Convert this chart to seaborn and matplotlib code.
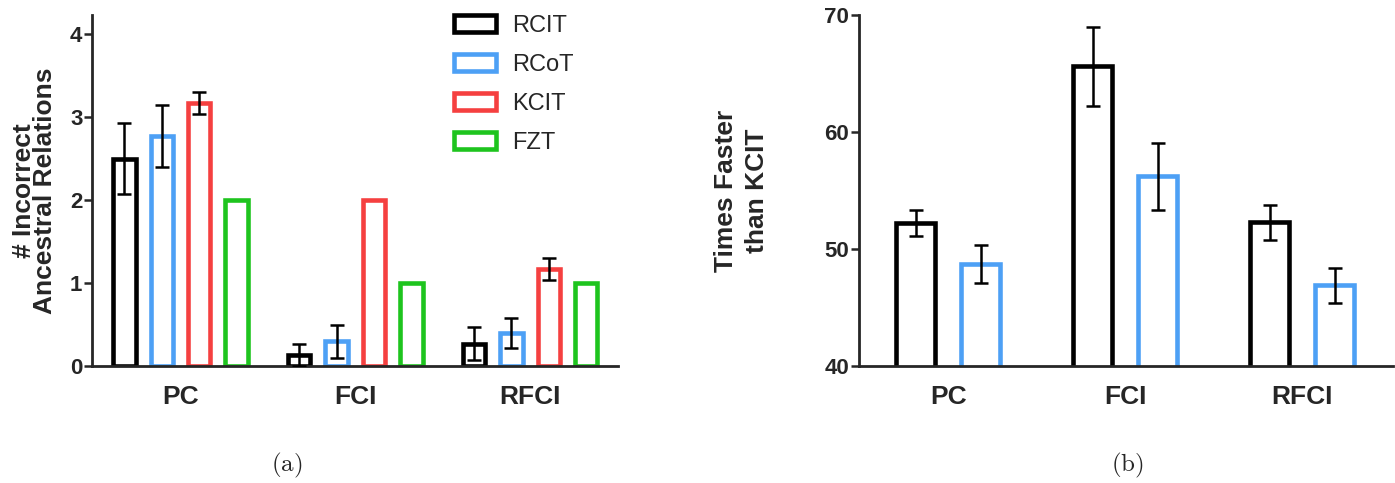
import pandas as pd
import seaborn as sns
import matplotlib.pyplot as plt
import numpy as np

# data
algorithms = ["PC", "FCI", "RFCI"]
tests_a = ["RCIT", "RCoT", "KCIT", "FZT"]
tests_b = ["RCIT", "RCoT"]

# (a) number of incorrect ancestral relations
rcit_errors = [2.50, 0.13, 0.27]
rcit_errors_sd = [0.43, 0.13, 0.20]
rcot_errors = [2.77, 0.30, 0.40]
rcot_errors_sd = [0.37, 0.20, 0.18]
kcit_errors = [3.17, 2.00, 1.17]
kcit_errors_sd = [0.13, 0.0, 0.13]
fzt_errors = [2.00, 1.00, 1.00]
fzt_errors_sd = [0.0, 0.0, 0.0]

# (b) times faster than KCIT
rcit_speedup = [52.2, 65.6, 52.3]
rcit_speedup_sd = [1.1, 3.4, 1.5]
rcot_speedup = [48.7, 56.2, 46.9]
rcot_speedup_sd = [1.6, 2.9, 1.5]

colors = {"RCIT": "#000000", "RCoT": "#4DA0F5", "KCIT": "#F54040", "FZT": "#1EC41E"}


def make_frame(tests, values, sds):
    rows = []
    for t, vals, errs in zip(tests, values, sds):
        for alg, v, e in zip(algorithms, vals, errs):
            rows.append({"algorithm": alg, "test": t, "value": v, "sd": e})
    return pd.DataFrame(rows)


df_a = make_frame(tests_a,
                  [rcit_errors, rcot_errors, kcit_errors, fzt_errors],
                  [rcit_errors_sd, rcot_errors_sd, kcit_errors_sd, fzt_errors_sd])
df_b = make_frame(tests_b,
                  [rcit_speedup, rcot_speedup],
                  [rcit_speedup_sd, rcot_speedup_sd])

sns.set_style("ticks")
plt.rcParams['font.family'] = ['Liberation Sans', 'DejaVu Sans']
plt.rcParams['mathtext.fontset'] = 'cm'

fig = plt.figure(figsize=(13.95, 4.83), dpi=100)
ax_a = fig.add_axes([0.066, 1 - 366 / 483, 0.377, 351 / 483])
ax_b = fig.add_axes([0.6158, 1 - 366 / 483, 0.383, 351 / 483])


def draw(ax, df, tests, width, gap):
    sns.barplot(data=df, x="algorithm", y="value", hue="test", hue_order=tests,
                order=algorithms, palette=colors, fill=False, errorbar=None,
                width=width, gap=gap, linewidth=3.3, legend=False, ax=ax)
    bars = list(ax.containers)
    # error bars at the bar centres given by seaborn
    for cont, t in zip(bars, tests):
        sub = df[df.test == t].set_index("algorithm").loc[algorithms]
        xs = [p.get_x() + p.get_width() / 2 for p in cont.patches]
        sd = sub["sd"].to_numpy().astype(float)
        sd[sd == 0] = np.nan
        ax.errorbar(xs, sub["value"], yerr=sd, fmt="none", ecolor="black",
                    elinewidth=1.8, capsize=5, capthick=1.8, zorder=4)
    sns.despine(ax=ax)
    ax.spines["left"].set_linewidth(2.0)
    ax.spines["bottom"].set_linewidth(2.0)
    ax.tick_params(axis="y", length=6, width=1.8, pad=1, labelsize=16)
    ax.tick_params(axis="x", length=0, pad=14, labelsize=19)
    for lbl in ax.get_xticklabels() + ax.get_yticklabels():
        lbl.set_fontweight("bold")
    ax.set_xlabel("")
    return bars


bars_a = draw(ax_a, df_a, tests_a, 0.857, 0.4)
ax_a.set_xlim(-0.506, 2.503)
ax_a.set_ylim(0, 4.23)
ax_a.set_yticks([0, 1, 2, 3, 4])
ax_a.set_ylabel("# Incorrect\nAncestral Relations", fontsize=19,
                fontweight="bold", labelpad=9, linespacing=0.85)
ax_a.legend([c.patches[0] for c in bars_a], tests_a, loc="upper left",
            bbox_to_anchor=(0.665, 1.035), frameon=False, fontsize=17,
            handlelength=1.78, handleheight=0.76, labelspacing=0.72,
            handletextpad=0.7, borderpad=0)

draw(ax_b, df_b, tests_b, 0.735, 0.4)
ax_b.set_xlim(-0.503, 2.514)
ax_b.set_ylim(40, 70)
ax_b.set_yticks([40, 50, 60, 70])
ax_b.set_ylabel("Times Faster\nthan KCIT", fontsize=19,
                fontweight="bold", labelpad=40, linespacing=1.35)

fig.text(287 / 1395, 1 - 465 / 483, r"$\mathrm{(a)}$", ha="center", va="center", fontsize=18)
fig.text(1127 / 1395, 1 - 465 / 483, r"$\mathrm{(b)}$", ha="center", va="center", fontsize=18)

fig.savefig("out.png", dpi=100)
